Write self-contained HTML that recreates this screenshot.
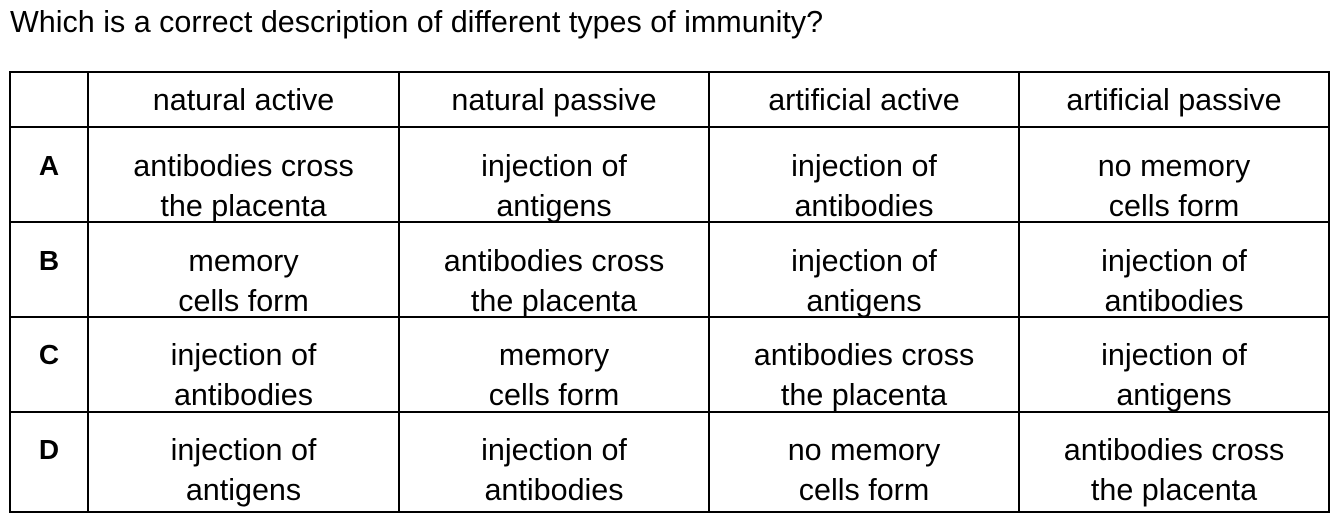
<!DOCTYPE html>
<html><head><meta charset="utf-8"><style>
body{margin:0;width:1339px;height:525px;background:#fff;position:relative;overflow:hidden;font-family:"Liberation Sans",Arial,sans-serif;color:#000}
.l{position:absolute;background:#000}
.t{position:absolute;font-size:30.5px;line-height:40px;text-align:center;white-space:nowrap}
.k{position:absolute;font-size:28px;font-weight:bold;line-height:40px;width:78px;text-align:center;left:10px}
</style></head><body>
<div style="position:absolute;left:10px;top:5px;font-size:30.5px;line-height:34px">Which is a correct description of different types of immunity?</div>
<div>
<div class="l" style="left:9px;top:71px;width:1321px;height:2px"></div>
<div class="l" style="left:9px;top:126px;width:1321px;height:2px"></div>
<div class="l" style="left:9px;top:221px;width:1321px;height:2px"></div>
<div class="l" style="left:9px;top:316px;width:1321px;height:2px"></div>
<div class="l" style="left:9px;top:411px;width:1321px;height:2px"></div>
<div class="l" style="left:9px;top:511px;width:1321px;height:2px"></div>
<div class="l" style="left:9px;top:71px;width:2px;height:442px"></div>
<div class="l" style="left:87px;top:71px;width:2px;height:442px"></div>
<div class="l" style="left:398px;top:71px;width:2px;height:442px"></div>
<div class="l" style="left:708px;top:71px;width:2px;height:442px"></div>
<div class="l" style="left:1018px;top:71px;width:2px;height:442px"></div>
<div class="l" style="left:1328px;top:71px;width:2px;height:442px"></div>
</div>
<div class="t" style="left:89px;width:309px;top:80px">natural active</div>
<div class="t" style="left:400px;width:308px;top:80px">natural passive</div>
<div class="t" style="left:710px;width:308px;top:80px">artificial active</div>
<div class="t" style="left:1020px;width:308px;top:80px">artificial passive</div>

<div class="k" style="top:146px">A</div>
<div class="t" style="left:89px;width:309px;top:146px">antibodies cross<br>the placenta</div>
<div class="t" style="left:400px;width:308px;top:146px">injection of<br>antigens</div>
<div class="t" style="left:710px;width:308px;top:146px">injection of<br>antibodies</div>
<div class="t" style="left:1020px;width:308px;top:146px">no memory<br>cells form</div>

<div class="k" style="top:241px">B</div>
<div class="t" style="left:89px;width:309px;top:241px">memory<br>cells form</div>
<div class="t" style="left:400px;width:308px;top:241px">antibodies cross<br>the placenta</div>
<div class="t" style="left:710px;width:308px;top:241px">injection of<br>antigens</div>
<div class="t" style="left:1020px;width:308px;top:241px">injection of<br>antibodies</div>

<div class="k" style="top:335px">C</div>
<div class="t" style="left:89px;width:309px;top:335px">injection of<br>antibodies</div>
<div class="t" style="left:400px;width:308px;top:335px">memory<br>cells form</div>
<div class="t" style="left:710px;width:308px;top:335px">antibodies cross<br>the placenta</div>
<div class="t" style="left:1020px;width:308px;top:335px">injection of<br>antigens</div>

<div class="k" style="top:430px">D</div>
<div class="t" style="left:89px;width:309px;top:430px">injection of<br>antigens</div>
<div class="t" style="left:400px;width:308px;top:430px">injection of<br>antibodies</div>
<div class="t" style="left:710px;width:308px;top:430px">no memory<br>cells form</div>
<div class="t" style="left:1020px;width:308px;top:430px">antibodies cross<br>the placenta</div>
</body></html>
